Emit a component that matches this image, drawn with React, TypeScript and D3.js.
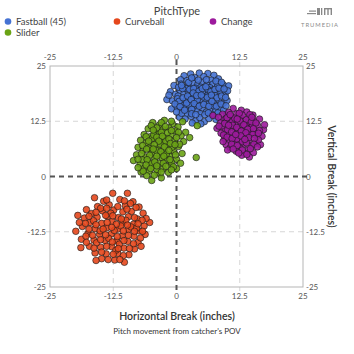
import React from "react";
import * as d3 from "d3";

const pitchTypes = ["Fastball (45)", "Curveball", "Change", "Slider"];
const pitchColors = ["#4572d3", "#e5471c", "#9c1a9c", "#6aa315"];
const xTicks = [-25, -12.5, 0, 12.5, 25];
const yTicks = [-25, -12.5, 0, 12.5, 25];

const fastball = [
  1.5,22.8, 2.8,23.2, 4.5,23.4, 6.2,23.3, 7.4,22.9, 3.6,22.4, 5.4,22.6, 8.3,22.1, 0.8,21.9, 2.1,21.7, 6.9,21.8,
  -0.5,20.6, 0.9,20.9, 2.4,20.5, 3.3,21.1, 4.2,20.8, 5.1,21.3, 6.0,20.7, 7.2,20.9, 8.1,20.4, 9.2,20.8, 10.3,20.5, 1.6,20.1, 4.8,20.2, 6.6,20.1, 8.7,19.9,
  -1.2,19.2, -0.2,18.6, 0.7,19.5, 1.5,18.8, 2.3,19.3, 3.1,18.5, 3.9,19.6, 4.6,18.9, 5.5,19.4, 6.3,18.7, 7.1,19.5, 7.9,18.9, 8.8,19.1, 9.6,18.6, 10.1,19.4, 2.8,18.1, 5.9,18.2, 7.6,18.3, 0.3,18.2,
  -1.9,17.4, -0.8,17.1, 0.2,17.6, 1.1,16.8, 1.9,17.5, 2.7,16.9, 3.5,17.7, 4.3,16.7, 5.0,17.4, 5.8,16.9, 6.7,17.6, 7.5,16.8, 8.4,17.3, 9.3,16.6, 10.0,17.2, 3.9,16.2, 6.2,16.3, 1.5,16.1,
  -1.0,15.3, 0.1,15.8, 0.9,14.9, 1.8,15.5, 2.6,14.7, 3.4,15.6, 4.2,14.9, 5.1,15.5, 5.9,14.6, 6.8,15.4, 7.7,14.8, 8.6,15.6, 9.3,15.0, 2.2,14.1, 4.7,14.2, 7.1,14.0,
  0.6,13.4, 1.7,13.0, 2.9,13.6, 3.8,12.6, 4.6,13.3, 5.5,12.4, 6.4,13.1, 7.8,12.9, 9.9,13.8, 3.1,12.1, 4.8,11.9,
  2.0,19.9, 3.7,20.0, 5.3,18.0, 4.1,17.3, 2.5,16.3, 7.3,16.0, 6.1,19.8, 3.0,15.2,
  0.4,20.2, 1.2,19.9, 2.6,19.7, 3.4,19.9, 4.4,19.3, 5.1,19.9, 5.8,20.3, 6.8,19.2, 7.6,19.7, 8.4,20.0, 9.4,19.8,
  0.5,17.0, 1.3,17.8, 2.2,18.2, 3.3,18.9, 4.0,18.3, 4.9,18.4, 6.1,17.9, 6.9,18.4, 8.0,17.8, 8.9,18.2, 9.7,17.9,
  -0.3,16.4, 0.7,15.8, 2.0,16.6, 2.9,17.4, 3.5,16.5, 4.5,15.9, 5.4,16.3, 6.4,15.9, 7.0,17.0, 7.9,15.9, 8.8,16.4,
  1.0,14.3, 1.6,15.0, 3.0,14.2, 3.8,14.0, 5.6,14.0, 6.3,14.4, 8.2,14.4, 2.4,21.3, 4.3,21.8, 5.9,21.9, 7.8,21.6, 3.0,22.3, 1.0,20.6, 9.8,16.0, -1.5,18.4, 0.0,14.6, 8.9,21.3
];

const curveball = [
  -16.2,-4.8, -12.6,-3.8, -9.7,-3.8, -14.4,-5.6, -11.2,-5.2, -8.6,-5.7, -13.3,-6.4, -10.1,-6.6, -15.6,-6.8, -7.4,-6.9, -17.8,-7.5,
  -19.5,-8.8, -16.8,-8.4, -14.6,-7.8, -12.4,-7.6, -10.6,-8.0, -8.9,-7.9, -6.6,-8.3, -18.2,-9.4, -15.7,-9.2, -13.6,-9.0, -11.5,-9.3, -9.5,-9.1, -7.7,-9.6, -5.3,-10.4,
  -19.9,-12.4, -17.1,-10.4, -14.8,-10.6, -12.7,-10.2, -10.6,-10.5, -8.5,-10.8, -6.4,-11.2, -18.6,-11.3, -16.1,-11.8, -13.8,-11.6, -11.6,-11.9, -9.5,-12.0, -7.4,-12.3,
  -17.5,-12.9, -15.2,-13.1, -12.9,-13.0, -10.7,-13.4, -8.4,-13.5, -6.2,-13.1, -18.8,-14.2, -16.3,-14.4, -14.1,-14.5, -11.8,-14.6, -9.6,-14.7, -7.6,-14.9,
  -17.2,-15.8, -15.0,-16.0, -12.8,-15.9, -10.4,-16.2, -8.3,-16.4, -16.1,-17.3, -13.9,-17.5, -11.6,-17.4, -9.4,-17.7, -14.8,-18.6, -12.2,-18.9, -10.3,-19.4, -15.9,-19.0,
  -13.0,-8.3, -11.0,-11.2, -15.1,-12.3, -9.0,-11.4, -12.3,-12.2, -13.4,-14.0, -10.0,-9.9, -16.4,-10.0, -14.0,-8.8, -7.9,-11.7, -11.3,-15.3, -15.8,-15.0, -12.0,-16.7, -6.0,-9.5, -17.9,-13.5, -9.1,-6.1,
  -15.0,-7.2, -13.8,-7.2, -11.6,-6.8, -9.8,-7.4, -8.0,-7.0, -17.3,-9.0, -15.9,-8.1, -12.6,-8.9, -10.9,-9.6, -8.3,-9.3, -6.8,-9.9,
  -18.0,-10.6, -15.9,-10.9, -13.7,-10.4, -11.9,-10.8, -9.7,-11.0, -7.6,-10.7, -17.3,-11.9, -14.5,-11.9, -12.8,-11.5, -10.5,-12.3, -8.3,-12.4, -6.7,-12.4,
  -16.6,-13.3, -14.0,-13.2, -11.7,-13.6, -9.5,-13.3, -7.1,-13.9, -17.8,-14.9, -15.0,-14.3, -12.7,-14.8, -10.4,-14.5, -8.5,-15.2,
  -16.3,-16.2, -13.8,-15.8, -11.5,-16.3, -9.3,-16.3, -14.8,-17.1, -12.5,-17.6, -10.5,-17.9, -13.5,-18.8, -11.2,-18.8, -18.9,-16.1, -19.2,-10.4, -10.3,-5.5, -13.8,-5.3, -7.0,-15.8
];

const change = [
  11.2,15.4, 12.8,15.0, 10.3,14.5, 13.9,14.6, 9.1,14.1, 11.9,14.2, 7.2,13.8, 8.3,13.4, 15.1,13.9, 12.6,13.5, 10.7,13.6, 14.3,13.2, 16.4,13.0,
  9.4,12.8, 11.3,12.7, 13.1,12.4, 15.2,12.6, 8.7,12.1, 10.2,12.0, 12.0,11.9, 14.0,11.8, 16.0,11.6,
  9.0,11.2, 10.8,11.1, 12.7,11.3, 14.6,11.0, 11.6,10.7, 13.5,10.5, 15.5,10.3, 17.2,10.6, 9.6,10.3,
  8.8,9.8, 10.4,9.5, 12.2,9.9, 14.0,9.6, 15.8,9.3, 11.3,9.0, 13.1,8.9, 16.9,9.1, 9.5,8.6,
  10.5,8.1, 12.3,8.0, 14.2,8.2, 15.7,7.9, 11.4,7.4, 13.3,7.3, 9.8,7.2, 14.9,6.9, 16.6,7.2,
  10.6,6.5, 12.6,6.4, 14.1,6.0, 11.8,5.7, 13.5,5.2, 15.2,5.4, 14.4,4.4, 12.9,4.8, 10.1,6.0,
  11.0,12.4, 13.8,12.9, 12.2,10.6, 10.1,10.6, 14.8,9.8, 13.0,7.9, 11.9,8.5, 15.0,11.4, 9.8,13.1, 16.2,8.3, 8.0,10.9, 17.4,11.7,
  10.0,13.3, 11.5,13.2, 13.0,13.9, 14.5,14.0, 9.5,12.0, 11.1,11.6, 12.5,12.6, 13.6,11.4, 14.8,12.4, 15.7,12.1, 10.3,11.6, 11.9,11.1,
  13.3,11.7, 14.1,10.7, 15.2,10.8, 16.4,10.4, 9.3,9.4, 10.9,10.1, 12.8,10.3, 13.7,9.9, 15.1,9.5, 16.2,9.8, 10.0,8.9, 11.0,8.6,
  12.7,9.2, 14.3,8.8, 15.4,8.6, 10.9,7.3, 12.0,7.0, 13.8,7.6, 15.3,7.3, 11.2,6.2, 13.0,6.0, 14.6,6.3, 12.3,5.3, 13.9,5.0,
  16.0,6.7, 9.2,7.9, 8.4,11.4, 12.4,14.3, 10.6,14.0, 14.9,13.4, 13.5,8.4, 11.7,9.5, 12.0,13.0
];

const slider = [
  -4.7,12.2, -2.4,12.7, 1.2,12.4, -0.8,11.9, -3.4,11.6, 4.1,11.5, -1.5,11.0, 0.3,11.2, -5.6,10.8, -2.7,10.6, -0.2,10.3, 1.8,10.0, -4.3,10.1,
  -6.4,9.5, -3.5,9.6, -1.1,9.4, 0.9,9.2, -5.2,9.0, -2.3,8.8, 2.6,8.8, -7.1,8.2, -4.1,8.3, -0.4,8.1, 1.4,7.9, -6.0,7.6, -2.9,7.7,
  -5.0,7.0, -1.7,7.1, 0.4,6.8, -7.6,6.6, -3.8,6.4, -6.6,5.9, -2.4,6.0, -0.6,5.7, -4.9,5.4, 1.1,5.2, -7.9,4.9, -3.3,5.0, -1.4,4.6, -6.1,4.4,
  -4.3,4.1, -2.2,3.8, 0.0,3.9, -8.5,3.6, -5.6,3.4, -3.4,3.0, -7.2,2.8, -1.1,2.7, -4.7,2.3, -6.3,1.9, -2.6,1.8, 0.0,1.8, -5.4,1.2, -3.7,0.8, -7.0,1.0, -1.6,0.9, -4.9,-0.9, -3.0,-0.3, -5.9,0.2,
  3.9,4.3, -3.9,11.0, -1.8,9.9, -4.8,8.6, -3.2,7.3, -0.9,6.6, -5.5,6.4, -2.0,5.1, -4.0,5.9, -6.8,3.8, -2.9,4.3, -1.0,3.2, -5.0,2.9, -3.9,1.6, -2.1,8.0, -4.5,9.4, 0.6,7.3,
  -5.0,11.5, -3.0,12.2, -1.0,12.5, -2.2,11.3, -4.6,10.5, -3.0,10.0, -1.0,10.4, 0.4,10.0, -6.0,9.0, -3.9,8.9, -2.8,9.1, -1.5,8.5,
  0.0,8.8, -5.5,8.0, -3.5,8.0, -1.2,7.5, -6.7,7.0, -4.4,7.2, -2.4,6.7, -0.3,7.2, -5.9,6.2, -4.6,6.2, -3.1,5.6, -1.5,5.9,
  -0.2,4.9, -6.9,5.2, -5.3,4.8, -3.9,4.6, -2.5,4.6, -1.3,3.8, -7.6,3.9, -5.8,3.8, -4.3,3.3, -2.6,3.0, -0.6,2.2, -6.0,2.6,
  -3.9,2.4, -2.1,2.3, -5.1,1.8, -3.0,1.0, -4.4,0.3, -6.6,1.2, -1.0,1.5, -7.6,2.0, 0.8,3.0
];

const seriesData = [fastball, curveball, change, slider];

function pairs(flat: number[]) {
  const out: [number, number][] = [];
  for (let i = 0; i < flat.length; i += 2) out.push([flat[i], flat[i + 1]]);
  return out;
}

export default function App() {
  const W = 354, H = 354;
  const x = d3.scaleLinear().domain([-25, 25]).range([50, 303]);
  const y = d3.scaleLinear().domain([-25, 25]).range([287, 66]);
  const font = "Lato, 'Open Sans', sans-serif";
  const x0 = x(-25), x1 = x(25), y0 = y(25), y1 = y(-25);
  const ext = 4;

  const legendPos = [
    { lx: 8, ly: 21.5 },
    { lx: 117, ly: 21.5 },
    { lx: 213, ly: 21.5 },
    { lx: 8, ly: 32.5 },
  ];

  return (
    <svg width={W} height={H} style={{ position: "absolute", left: 0, top: 0, background: "#fff" }} fontFamily={font}>
      {/* legend */}
      <text x={177} y={14.5} textAnchor="middle" fontSize={11} fill="#444">PitchType</text>
      {pitchTypes.map((p, i) => (
        <g key={p}>
          <circle cx={legendPos[i].lx} cy={legendPos[i].ly} r={3.3} fill={pitchColors[i]} />
          <text x={legendPos[i].lx + 8} y={legendPos[i].ly + 3.3} fontSize={9.5} fill="#444">{p}</text>
        </g>
      ))}
      {/* logo */}
      <g fill="#888" stroke="none">
        <rect x={307} y={13} width={9} height={1.2} />
        <rect x={309} y={10.5} width={7} height={1.2} />
        <rect x={317} y={8} width={3} height={7} />
        <rect x={321} y={8} width={1.3} height={7} />
        <rect x={324} y={8} width={8} height={1.4} />
        <rect x={324} y={8} width={1.4} height={7} />
        <rect x={327.3} y={8} width={1.4} height={7} />
        <rect x={330.6} y={8} width={1.4} height={7} />
        <text x={320} y={27} textAnchor="middle" fontSize={5.8} letterSpacing={1} fill="#8a8a8a">TRUMEDIA</text>
      </g>

      {/* grid */}
      {xTicks.filter(t => Math.abs(t) === 12.5).map(t => (
        <line key={"gx" + t} x1={x(t)} x2={x(t)} y1={y0 - ext} y2={y1 + ext} stroke="#d6d6d6" strokeDasharray="5,4" />
      ))}
      {yTicks.filter(t => Math.abs(t) === 12.5).map(t => (
        <line key={"gy" + t} y1={y(t)} y2={y(t)} x1={x0 - ext} x2={x1 + ext} stroke="#d6d6d6" strokeDasharray="5,4" />
      ))}
      <rect x={x0} y={y0} width={x1 - x0} height={y1 - y0} fill="none" stroke="#b5b5b5" strokeWidth={1} />
      <line x1={x(0)} x2={x(0)} y1={y0 - ext - 2} y2={y1 + ext} stroke="#555" strokeWidth={2} strokeDasharray="5,4" />
      <line y1={y(0)} y2={y(0)} x1={x0} x2={x1 + ext + 2} stroke="#555" strokeWidth={2} strokeDasharray="5,4" />

      {/* tick labels */}
      <g fontSize={8} fill="#555">
        {xTicks.map(t => (
          <text key={"tx" + t} x={x(t)} y={60} textAnchor="middle">{t}</text>
        ))}
        {xTicks.map(t => (
          <text key={"bx" + t} x={x(t)} y={299} textAnchor="middle">{t}</text>
        ))}
        {yTicks.map(t => (
          <text key={"ly" + t} x={46} y={y(t) + 3} textAnchor="end">{t}</text>
        ))}
        {yTicks.map(t => (
          <text key={"ry" + t} x={306} y={y(t) + 3} textAnchor="start">{t}</text>
        ))}
      </g>

      {/* points */}
      {seriesData.map((s, i) => (
        <g key={"s" + i}>
          {pairs(s).map(([px, py], j) => (
            <circle key={j} cx={x(px)} cy={y(py)} r={3.3} fill={pitchColors[i]} fillOpacity={0.9} stroke="#1a1a1a" strokeOpacity={0.8} strokeWidth={0.8} />
          ))}
        </g>
      ))}

      {/* axis titles */}
      <text x={177} y={320} textAnchor="middle" fontSize={10.5} fill="#333" fontWeight={600}>Horizontal Break (inches)</text>
      <text x={177} y={334} textAnchor="middle" fontSize={8} fill="#333">Pitch movement from catcher's POV</text>
      <text transform={`translate(328, ${y(0)}) rotate(90)`} textAnchor="middle" fontSize={10.5} fill="#333" fontWeight={600}>Vertical Break (inches)</text>
    </svg>
  );
}
